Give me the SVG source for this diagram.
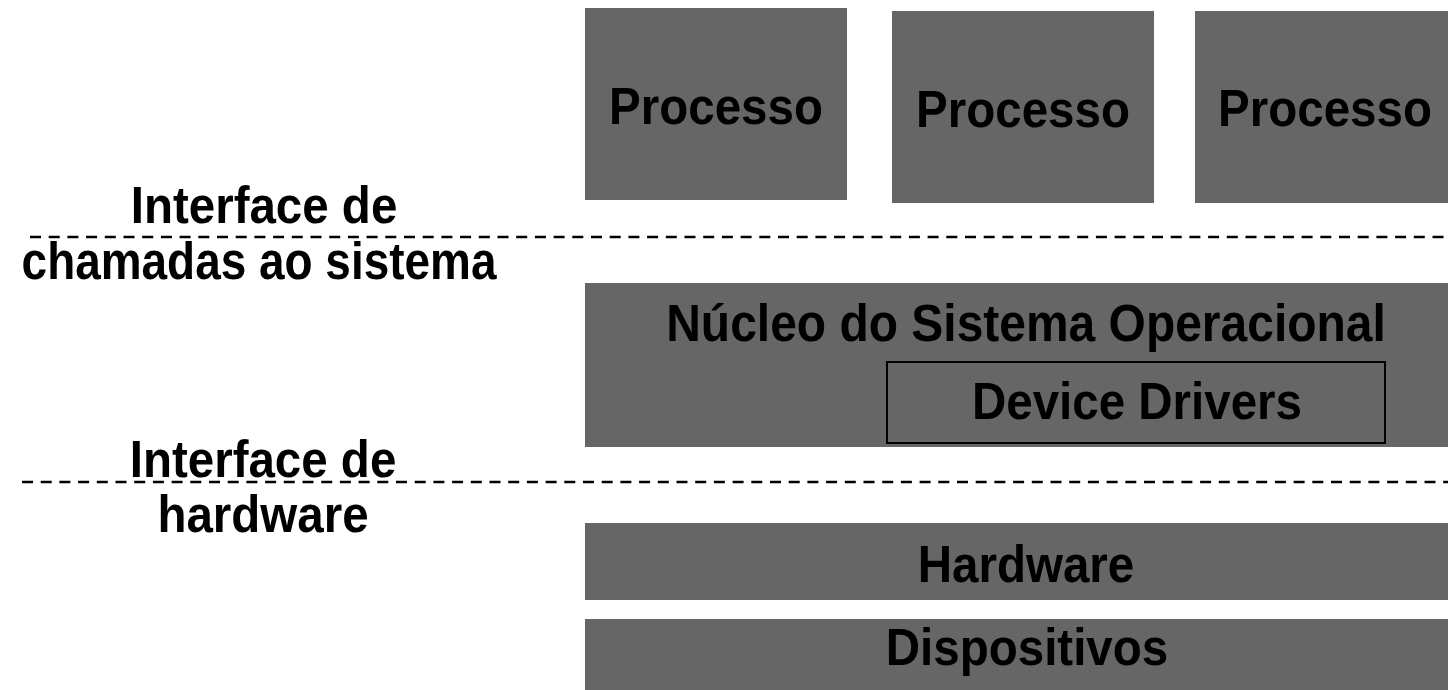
<svg xmlns="http://www.w3.org/2000/svg" width="1448" height="690" viewBox="0 0 1448 690">
<style>
.box{fill:#666666}
.t{font-family:"Liberation Sans",Arial,sans-serif;font-weight:bold;font-size:47.5px;fill:#000;text-anchor:middle}
.dash{stroke:#000;stroke-width:2.5;stroke-dasharray:11 7.7;fill:none}
</style>
<rect width="1448" height="690" fill="#fff"/>
<g id="processo1"><rect class="box" x="585" y="8" width="262" height="192"/><text class="t" transform="translate(716,124) scale(1,1.1)">Processo</text></g>
<g id="processo2"><rect class="box" x="892" y="11" width="262" height="192"/><text class="t" transform="translate(1023,127) scale(1,1.1)">Processo</text></g>
<g id="processo3"><rect class="box" x="1195" y="11" width="253" height="192"/><text class="t" transform="translate(1325,126) scale(1,1.1)">Processo</text></g>
<g id="nucleo"><rect class="box" x="585" y="283" width="863" height="164"/><text class="t" transform="translate(1026,341) scale(1.01,1.1)">Núcleo do Sistema Operacional</text></g>
<g id="drivers"><rect x="887" y="362" width="498" height="81" fill="none" stroke="#000" stroke-width="2"/><text class="t" transform="translate(1137,419) scale(1,1.1)">Device Drivers</text></g>
<g id="hardware"><rect class="box" x="585" y="523" width="863" height="77"/><text class="t" transform="translate(1026,582) scale(1,1.1)">Hardware</text></g>
<g id="dispositivos"><rect class="box" x="585" y="619" width="863" height="71"/><text class="t" transform="translate(1027,665) scale(1,1.1)">Dispositivos</text></g>
<g id="connectors">
<line class="dash" x1="30" y1="237" x2="1448" y2="237"/>
<line class="dash" x1="22" y1="482" x2="1448" y2="482"/>
</g>
<g id="label-syscall"><text class="t" transform="translate(264,223) scale(1,1.1)">Interface de</text><text class="t" transform="translate(259,279) scale(0.967,1.1)">chamadas ao sistema</text></g>
<g id="label-hw"><text class="t" transform="translate(263,477) scale(1,1.1)">Interface de</text><text class="t" transform="translate(263,532) scale(1,1.1)">hardware</text></g>
</svg>
